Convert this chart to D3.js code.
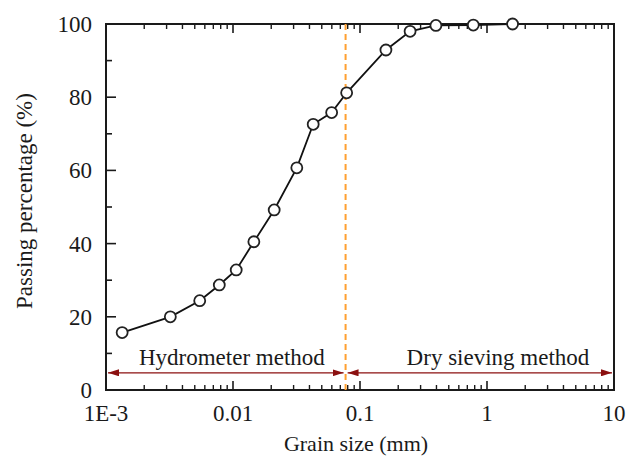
<!DOCTYPE html>
<html>
<head>
<meta charset="utf-8">
<script src="https://cdn.jsdelivr.net/npm/d3@7"></script>
<style>
  html, body { margin: 0; padding: 0; background: #fff; }
  svg { display: block; }
  text { font-family: "Liberation Serif", "Times New Roman", serif; fill: #1a1a1a; }
</style>
</head>
<body>
<div id="chart"></div>
<script>
// ---- data ----
const grainSize = [0.00134, 0.00321, 0.00547, 0.0078, 0.0106, 0.0146, 0.0211, 0.0318, 0.0428, 0.0598, 0.0785, 0.160, 0.248, 0.396, 0.78, 1.59];
const passing   = [15.7, 20.0, 24.4, 28.7, 32.8, 40.5, 49.2, 60.7, 72.6, 75.8, 81.2, 92.9, 98.0, 99.6, 99.7, 100];
const xTickValues = [0.001, 0.01, 0.1, 1, 10];
const xTickLabels = ["1E-3", "0.01", "0.1", "1", "10"];
const yTickValues = [0, 20, 40, 60, 80, 100];
const boundary = 0.077;
const methodLabels = ["Hydrometer method", "Dry sieving method"];
const methodLabelAt = [0.0098, 1.22];
const arrowLevel = 4.7;

// ---- layout ----
const W = 629, H = 457;
const m = { left: 106, right: 15, top: 24, bottom: 67 };
const iw = W - m.left - m.right, ih = H - m.top - m.bottom;

const svg = d3.select("#chart").append("svg").attr("width", W).attr("height", H)
  .attr("font-family", "Liberation Serif, Times New Roman, serif");
const defs = svg.append("defs");
["start", "end"].forEach(k => {
  defs.append("marker")
    .attr("id", "arr-" + k)
    .attr("viewBox", "0 0 11 7")
    .attr("refX", k === "end" ? 11 : 0).attr("refY", 3.5)
    .attr("markerWidth", 11).attr("markerHeight", 7)
    .attr("markerUnits", "userSpaceOnUse")
    .attr("orient", "auto")
    .append("path")
    .attr("d", k === "end" ? "M0,0 L11,3.5 L0,7 Z" : "M11,0 L0,3.5 L11,7 Z")
    .attr("fill", "#8b1010");
});

const g = svg.append("g").attr("transform", `translate(${m.left},${m.top})`);

const x = d3.scaleLog().domain([0.001, 10]).range([0, iw]);
const y = d3.scaleLinear().domain([0, 100]).range([ih, 0]);

// minor ticks for log axis
const minorX = [];
for (let e = -3; e < 1; e++) for (let k = 2; k <= 9; k++) minorX.push(k * Math.pow(10, e));
const minorY = [10, 30, 50, 70, 90];

// bottom axis
const bx = g.append("g").attr("transform", `translate(0,${ih})`);
bx.selectAll("line.maj").data(xTickValues).join("line")
  .attr("x1", d => x(d)).attr("x2", d => x(d)).attr("y1", 0).attr("y2", -9)
  .attr("stroke", "#1a1a1a").attr("stroke-width", 1.6);
bx.selectAll("line.min").data(minorX).join("line")
  .attr("x1", d => x(d)).attr("x2", d => x(d)).attr("y1", 0).attr("y2", -5)
  .attr("stroke", "#1a1a1a").attr("stroke-width", 1.4);
bx.selectAll("text").data(xTickValues).join("text")
  .attr("x", d => x(d)).attr("y", 31)
  .attr("text-anchor", "middle").attr("font-size", 23)
  .text((d, i) => xTickLabels[i]);

// top axis (mirror ticks)
const tx = g.append("g");
tx.selectAll("line.maj").data(xTickValues).join("line")
  .attr("x1", d => x(d)).attr("x2", d => x(d)).attr("y1", 0).attr("y2", 9)
  .attr("stroke", "#1a1a1a").attr("stroke-width", 1.6);
tx.selectAll("line.min").data(minorX).join("line")
  .attr("x1", d => x(d)).attr("x2", d => x(d)).attr("y1", 0).attr("y2", 5)
  .attr("stroke", "#1a1a1a").attr("stroke-width", 1.4);

// left axis
const ly = g.append("g");
ly.selectAll("line.maj").data(yTickValues).join("line")
  .attr("x1", 0).attr("x2", 10).attr("y1", d => y(d)).attr("y2", d => y(d))
  .attr("stroke", "#1a1a1a").attr("stroke-width", 1.6);
ly.selectAll("line.min").data(minorY).join("line")
  .attr("x1", 0).attr("x2", 6).attr("y1", d => y(d)).attr("y2", d => y(d))
  .attr("stroke", "#1a1a1a").attr("stroke-width", 1.6);
ly.selectAll("text").data(yTickValues).join("text")
  .attr("x", -14).attr("y", d => y(d)).attr("dy", "0.35em")
  .attr("text-anchor", "end").attr("font-size", 23)
  .text(d => d);

// frame
g.append("rect").attr("x", 0).attr("y", 0).attr("width", iw).attr("height", ih)
  .attr("fill", "none").attr("stroke", "#1a1a1a").attr("stroke-width", 2);

// axis titles
svg.append("text").attr("x", m.left + iw / 2 - 4).attr("y", 451)
  .attr("text-anchor", "middle").attr("font-size", 22).text("Grain size (mm)");
svg.append("text").attr("transform", `translate(32,${m.top + ih / 2 - 6}) rotate(-90)`)
  .attr("text-anchor", "middle").attr("font-size", 23).text("Passing percentage (%)");

// boundary dashed line
g.append("line")
  .attr("x1", x(boundary)).attr("x2", x(boundary)).attr("y1", 0).attr("y2", ih)
  .attr("stroke", "#ffa030").attr("stroke-width", 2).attr("stroke-dasharray", "6,4");

// method arrows
const spans = [[0.001, boundary], [boundary, 10]];
g.selectAll("line.arrow").data(spans).join("line")
  .attr("class", "arrow")
  .attr("x1", d => x(d[0]) + 2).attr("x2", d => x(d[1]) - 2)
  .attr("y1", y(arrowLevel)).attr("y2", y(arrowLevel))
  .attr("stroke", "#8b1010").attr("stroke-width", 1.2)
  .attr("marker-start", "url(#arr-start)").attr("marker-end", "url(#arr-end)");
g.selectAll("text.method").data(methodLabels).join("text")
  .attr("class", "method")
  .attr("x", (d, i) => x(methodLabelAt[i])).attr("y", y(arrowLevel) - 8)
  .attr("text-anchor", "middle").attr("font-size", 23)
  .text(d => d);

// data line and points
const pts = grainSize.map((d, i) => [d, passing[i]]);
g.append("path").datum(pts)
  .attr("d", d3.line().x(d => x(d[0])).y(d => y(d[1])))
  .attr("fill", "none").attr("stroke", "#111").attr("stroke-width", 1.8);
g.selectAll("circle.pt").data(pts).join("circle")
  .attr("class", "pt")
  .attr("cx", d => x(d[0])).attr("cy", d => y(d[1])).attr("r", 5.5)
  .attr("fill", "#fff").attr("stroke", "#222").attr("stroke-width", 1.8);
</script>
</body>
</html>
